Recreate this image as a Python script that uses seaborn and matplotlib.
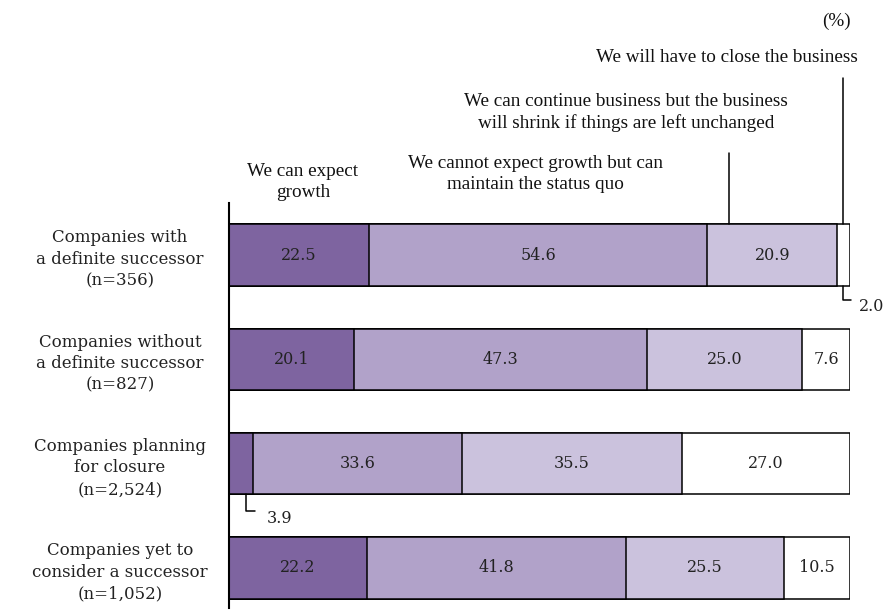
import matplotlib
matplotlib.use("Agg")
import matplotlib.pyplot as plt
import numpy as np
import pandas as pd
import seaborn as sns

# Survey responses by succession status (%)
categories = [
    "Companies with\na definite successor\n(n=356)",
    "Companies without\na definite successor\n(n=827)",
    "Companies planning\nfor closure\n(n=2,524)",
    "Companies yet to\nconsider a successor\n(n=1,052)",
]
expect_growth = [22.5, 20.1, 3.9, 22.2]
maintain_status_quo = [54.6, 47.3, 33.6, 41.8]
will_shrink = [20.9, 25.0, 35.5, 25.5]
will_close = [2.0, 7.6, 27.0, 10.5]

series_names = [
    "We can expect\ngrowth",
    "We cannot expect growth but can\nmaintain the status quo",
    "We can continue business but the business\nwill shrink if things are left unchanged",
    "We will have to close the business",
]
series_values = [expect_growth, maintain_status_quo, will_shrink, will_close]
colors = ["#7e64a0", "#b1a2c9", "#cbc2dd", "#ffffff"]

sns.set_theme(style="white")
SERIF = ["Liberation Serif", "DejaVu Serif"]
MONO_SERIF = ["DejaVu Serif"]

df = pd.DataFrame({"category": categories})
cum = np.cumsum(np.array(series_values), axis=0)
for i in range(len(series_values)):
    df[f"cum{i}"] = cum[i]

fig = plt.figure(figsize=(8.89, 6.12), dpi=100)
ax = fig.add_axes([0.2576, 0.0065, 0.698, 0.6618])

# stacked bars: draw cumulative totals from the outermost segment inward
for i in reversed(range(len(series_values))):
    sns.barplot(data=df, x=f"cum{i}", y="category", orient="h",
                color=colors[i], saturation=1, edgecolor="black",
                linewidth=1.1, width=0.59, errorbar=None, ax=ax)

ax.set_xlim(0, 100)
ax.set_ylim(3.385, -0.5)
ax.set_xlabel("")
ax.set_ylabel("")
ax.set_xticks([])
for side in ["top", "right", "bottom"]:
    ax.spines[side].set_visible(False)
ax.spines["left"].set_linewidth(1.5)
ax.spines["left"].set_color("black")

ax.tick_params(axis="y", length=0, pad=78.5)
for lbl in ax.get_yticklabels():
    lbl.set_horizontalalignment("center")
    lbl.set_multialignment("center")
    lbl.set_family(MONO_SERIF)
    lbl.set_fontsize(12)
    lbl.set_linespacing(1.35)
    lbl.set_color("#222222")

# value labels centred in each segment
small = {(0, 3), (2, 0)}
for r in range(len(categories)):
    start = 0.0
    for s, vals in enumerate(series_values):
        v = vals[r]
        if (r, s) not in small:
            ax.text(start + v / 2, r, f"{v:.1f}", ha="center", va="center",
                    fontsize=11.5, family=MONO_SERIF, color="#222222")
        start += v

# callouts for the narrow segments
ax.plot([99.0, 99.0, 100.3], [0.295, 0.43, 0.43], color="black", lw=1.1,
        clip_on=False)
ax.text(101.5, 0.49, f"{will_close[0]:.1f}", ha="left", va="center",
        fontsize=11.5, family=MONO_SERIF, color="#222222", clip_on=False)
ax.plot([2.7, 2.7, 4.2], [2.295, 2.45, 2.45], color="black", lw=1.1,
        clip_on=False)
ax.text(6.1, 2.53, f"{expect_growth[2]:.1f}", ha="left", va="center",
        fontsize=11.5, family=MONO_SERIF, color="#222222", clip_on=False)

# series headers above the first bar
header_kw = dict(ha="center", va="center", fontsize=13.8, family=SERIF,
                 color="#111111", linespacing=1.3, clip_on=False)
ax.text(11.9, -0.705, series_names[0], **header_kw)
ax.text(49.4, -0.777, series_names[1], **header_kw)
ax.text(64.0, -1.371, series_names[2], **header_kw)
ax.text(80.2, -1.898, series_names[3], **header_kw)
ax.text(97.9, -2.244, "(%)", **header_kw)

# leader lines from headers to segments
ax.plot([80.6, 80.6], [-0.978, -0.295], color="black", lw=1.1, clip_on=False)
ax.plot([99.0, 99.0], [-1.697, -0.295], color="black", lw=1.1, clip_on=False)

fig.savefig("out.png", dpi=100, facecolor="white")
